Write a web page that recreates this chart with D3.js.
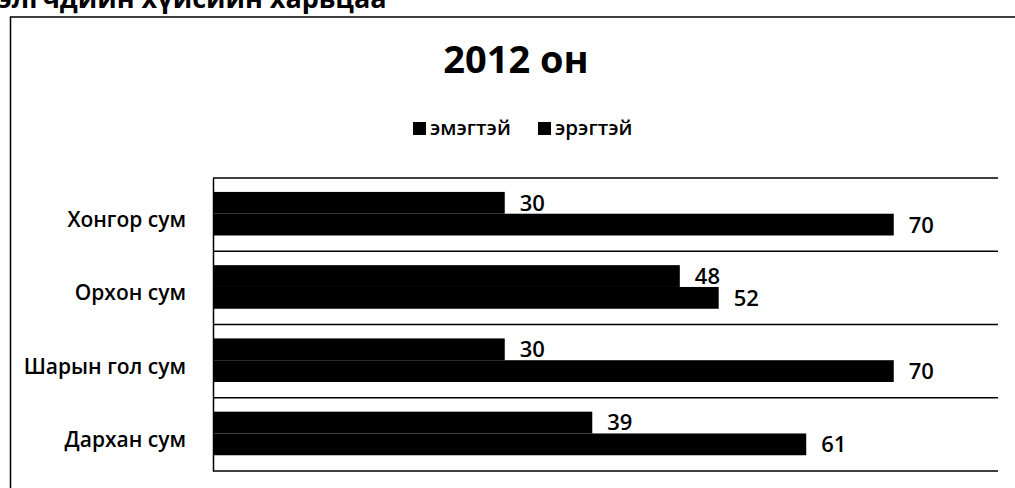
<!DOCTYPE html>
<html>
<head>
<meta charset="utf-8">
<script src="https://cdn.jsdelivr.net/npm/d3@7"></script>
<style>
  html, body { margin: 0; padding: 0; background: #fff; }
  svg { display: block; }
  text { font-family: "Open Sans", "Noto Sans", sans-serif; fill: #000; }
</style>
</head>
<body>
<svg id="chart" width="1015" height="488"></svg>
<script>
// ---- data ----
const categories = ["Хонгор сум", "Орхон сум", "Шарын гол сум", "Дархан сум"];
const seriesNames = ["эмэгтэй", "эрэгтэй"];
const female = [30, 48, 30, 39];
const male = [70, 52, 70, 61];
const axisMax = 80;
const chartTitle = "2012 он";
const pageHeading = "элгчдийн хүйсийн харьцаа";

const rows = categories.map((c, i) => ({ cat: c, values: [female[i], male[i]] }));

const svg = d3.select("#chart");

// page heading (cut off at top of the scanned page)
svg.append("text")
  .attr("x", -2).attr("y", 8)
  .attr("font-size", 27).attr("font-weight", 700)
  .text(pageHeading);

// outer chart border (left + top)
svg.append("path")
  .attr("d", "M10.5,490 L10.5,17 L1016,17")
  .attr("fill", "none").attr("stroke", "#000").attr("stroke-width", 1.5);

// title
svg.append("text")
  .attr("x", 516).attr("y", 73)
  .attr("text-anchor", "middle")
  .attr("font-size", 38).attr("font-weight", 700)
  .text(chartTitle);

// legend
const legendX = [413, 538];
const lg = svg.append("g");
seriesNames.forEach((s, i) => {
  lg.append("rect").attr("x", legendX[i]).attr("y", 122).attr("width", 13).attr("height", 13).attr("fill", "#000");
  lg.append("text").attr("x", legendX[i] + 17).attr("y", 135)
    .attr("font-size", 20.5).attr("font-weight", 600).text(s);
});

// scales
const plotLeft = 213, plotRight = 998, plotTop = 178, plotBottom = 471;
const x = d3.scaleLinear().domain([0, axisMax]).range([plotLeft, 991]);
const y = d3.scaleBand().domain(categories).range([plotTop, plotBottom]).padding(0);
const bw = y.bandwidth();
const ys = d3.scaleBand().domain(seriesNames).range([0.19 * bw, 0.785 * bw]).padding(0);

// gridlines at band boundaries
const bounds = categories.map(c => y(c)).concat([y(categories[categories.length - 1]) + bw]);
svg.append("g").selectAll("line").data(bounds).join("line")
  .attr("x1", plotLeft).attr("x2", plotRight)
  .attr("y1", d => d).attr("y2", d => d)
  .attr("stroke", "#000").attr("stroke-width", 1.5);

// category axis
const yAxis = d3.axisLeft(y).tickSize(0).tickPadding(27);
const yg = svg.append("g").attr("transform", `translate(${plotLeft},0)`).call(yAxis);
yg.select(".domain").attr("stroke", "#000").attr("stroke-width", 1.5);
yg.selectAll(".tick text")
  .attr("font-size", 21)
  .attr("font-weight", 600)
  .attr("font-family", "'Open Sans', 'Noto Sans', sans-serif")
  .attr("fill", "#000")
  .attr("dy", "0.55em")
  .attr("y", 1);

// bars
const groups = svg.append("g").selectAll("g").data(rows).join("g")
  .attr("transform", d => `translate(0,${y(d.cat)})`);

groups.selectAll("rect").data(d => d.values.map((v, i) => ({ s: seriesNames[i], v })))
  .join("rect")
  .attr("x", x(0))
  .attr("y", d => ys(d.s))
  .attr("width", d => x(d.v) - x(0))
  .attr("height", ys.bandwidth())
  .attr("fill", "#000");

groups.selectAll("text.lbl").data(d => d.values.map((v, i) => ({ s: seriesNames[i], v })))
  .join("text")
  .attr("class", "lbl")
  .attr("x", d => x(d.v) + 15)
  .attr("y", d => ys(d.s) + ys.bandwidth() / 2)
  .attr("dy", "0.36em")
  .attr("font-size", 22)
  .attr("font-weight", 600)
  .text(d => d.v);
</script>
</body>
</html>
